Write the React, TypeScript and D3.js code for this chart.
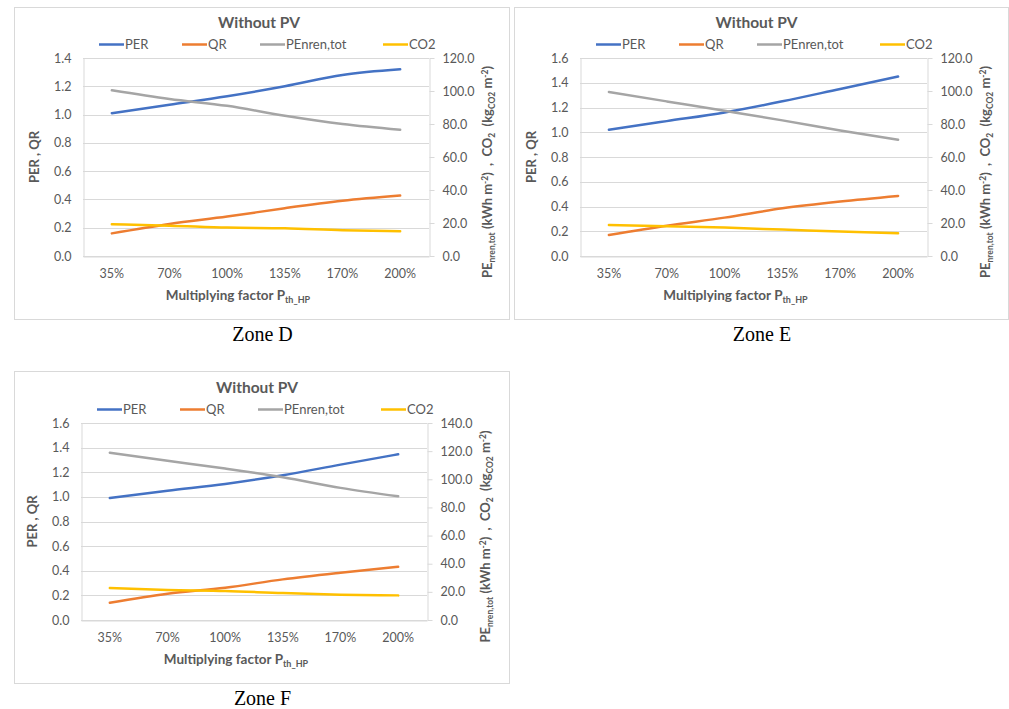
import React, { useRef, useEffect } from "react";
import * as d3 from "d3";

const categories = ["35%", "70%", "100%", "135%", "170%", "200%"];

const seriesNames = ["PER", "QR", "PEnren,tot", "CO2"];
const seriesColors = ["#4472C4", "#ED7D31", "#A5A5A5", "#FFC000"];

// Zone D
const perD = [1.01, 1.07, 1.13, 1.2, 1.28, 1.32];
const qrD = [0.16, 0.227, 0.279, 0.338, 0.39, 0.427];
const penrenD = [100.4, 95.1, 91.0, 85.0, 80.0, 76.5];
const co2D = [19.2, 18.4, 17.2, 16.8, 15.6, 15.0];

// Zone E
const perE = [1.02, 1.09, 1.16, 1.25, 1.35, 1.45];
const qrE = [0.17, 0.245, 0.31, 0.385, 0.44, 0.485];
const penrenE = [99.4, 93.7, 88.0, 82.2, 76.1, 70.4];
const co2E = [18.8, 18.0, 17.2, 16.0, 14.8, 13.8];

// Zone F
const perF = [0.99, 1.05, 1.105, 1.176, 1.262, 1.346];
const qrF = [0.14, 0.213, 0.262, 0.33, 0.384, 0.432];
const penrenF = [118.9, 113.2, 107.6, 101.4, 93.9, 87.9];
const co2F = [22.7, 21.3, 20.6, 19.1, 18.0, 17.5];

const leftTicks14 = [0, 0.2, 0.4, 0.6, 0.8, 1.0, 1.2, 1.4];
const leftTicks16 = [0, 0.2, 0.4, 0.6, 0.8, 1.0, 1.2, 1.4, 1.6];
const rightTicks120 = [0, 20, 40, 60, 80, 100, 120];
const rightTicks140 = [0, 20, 40, 60, 80, 100, 120, 140];

const zoneLabels = ["Zone D", "Zone E", "Zone F"];

const panels = [
  {
    zone: zoneLabels[0],
    frame: { x: 14, y: 7, w: 495, h: 312 },
    plot: { l: 83, t: 58, r: 429, b: 256 },
    leftTicks: leftTicks14,
    rightTicks: rightTicks120,
    left: [perD, qrD],
    right: [penrenD, co2D],
  },
  {
    zone: zoneLabels[1],
    frame: { x: 514, y: 7, w: 494, h: 312 },
    plot: { l: 580, t: 58, r: 927, b: 256 },
    leftTicks: leftTicks16,
    rightTicks: rightTicks120,
    left: [perE, qrE],
    right: [penrenE, co2E],
  },
  {
    zone: zoneLabels[2],
    frame: { x: 14, y: 371, w: 495, h: 312 },
    plot: { l: 81, t: 423, r: 427, b: 620 },
    leftTicks: leftTicks16,
    rightTicks: rightTicks140,
    left: [perF, qrF],
    right: [penrenF, co2F],
  },
];

const FONT = "Lato, 'Open Sans', sans-serif";
const GRID = "#D9D9D9";
const TXT = "#595959";

function drawPanel(svg, p) {
  const { l, t, r, b } = p.plot;
  const g = svg.append("g");

  g.append("rect")
    .attr("x", p.frame.x + 0.5)
    .attr("y", p.frame.y + 0.5)
    .attr("width", p.frame.w)
    .attr("height", p.frame.h)
    .attr("fill", "#fff")
    .attr("stroke", GRID);

  const x = d3.scaleBand().domain(categories).range([l, r]);
  const yL = d3
    .scaleLinear()
    .domain([0, p.leftTicks[p.leftTicks.length - 1]])
    .range([b, t]);
  const yR = d3
    .scaleLinear()
    .domain([0, p.rightTicks[p.rightTicks.length - 1]])
    .range([b, t]);

  // gridlines
  g.selectAll(".grid")
    .data(p.leftTicks)
    .enter()
    .append("line")
    .attr("x1", l)
    .attr("x2", r)
    .attr("y1", (d) => Math.round(yL(d)) + 0.5)
    .attr("y2", (d) => Math.round(yL(d)) + 0.5)
    .attr("stroke", GRID);

  const styleAxis = (sel) => {
    sel.selectAll("path.domain").attr("stroke", GRID);
    sel.selectAll(".tick line").attr("stroke", GRID);
    sel.selectAll("text")
      .attr("fill", TXT)
      .style("font-family", FONT)
      .style("font-size", "12.5px");
  };

  g.append("g")
    .attr("transform", `translate(${l + 0.5},0)`)
    .call(
      d3.axisLeft(yL).tickValues(p.leftTicks).tickSize(0).tickPadding(12).tickFormat(d3.format(".1f"))
    )
    .call(styleAxis);

  g.append("g")
    .attr("transform", `translate(${r + 0.5},0)`)
    .call(
      d3.axisRight(yR).tickValues(p.rightTicks).tickSize(5).tickSizeOuter(0).tickPadding(8).tickFormat(d3.format(".1f"))
    )
    .call(styleAxis);

  g.append("g")
    .attr("transform", `translate(0,${b + 0.5})`)
    .call(d3.axisBottom(x).tickSize(0).tickPadding(13))
    .call(styleAxis);

  // series lines
  const line = (scale) =>
    d3
      .line<number>()
      .x((_, i) => x(categories[i]) + x.bandwidth() / 2)
      .y((d) => scale(d))
      .curve(d3.curveMonotoneX);

  const all = [
    ...p.left.map((s) => ({ s, scale: yL })),
    ...p.right.map((s) => ({ s, scale: yR })),
  ];
  all.forEach((d, i) => {
    g.append("path")
      .attr("d", line(d.scale)(d.s))
      .attr("fill", "none")
      .attr("stroke", seriesColors[i])
      .attr("stroke-width", 2.5)
      .attr("stroke-linecap", "round");
  });

  // title
  g.append("text")
    .attr("x", (l + r) / 2 + 3)
    .attr("y", t - 30)
    .attr("text-anchor", "middle")
    .attr("fill", TXT)
    .style("font-family", FONT)
    .style("font-weight", "bold")
    .style("font-size", "15.5px")
    .text("Without PV");

  // legend
  const legendOffsets = [0, 83, 161, 284];
  const lg = g.append("g").attr("transform", `translate(${l + 16},${t - 13.5})`);
  seriesNames.forEach((name, i) => {
    lg.append("line")
      .attr("x1", legendOffsets[i])
      .attr("x2", legendOffsets[i] + 25)
      .attr("stroke", seriesColors[i])
      .attr("stroke-width", 2.5);
    lg.append("text")
      .attr("x", legendOffsets[i] + 26)
      .attr("dy", "0.35em")
      .attr("fill", TXT)
      .style("font-family", FONT)
      .style("font-size", "13px")
      .text(name);
  });

  // left axis title
  g.append("text")
    .attr("transform", `translate(${l - 44},${(t + b) / 2}) rotate(-90)`)
    .attr("text-anchor", "middle")
    .attr("fill", TXT)
    .style("font-family", FONT)
    .style("font-weight", "bold")
    .style("font-size", "13px")
    .text("PER , QR");

  // right axis title with sub/superscripts
  const rt = g
    .append("text")
    .attr("transform", `translate(${r + 63},${(t + b) / 2 + 15}) rotate(-90)`)
    .attr("text-anchor", "middle")
    .attr("fill", TXT)
    .style("font-family", FONT)
    .style("font-weight", "bold")
    .style("font-size", "13px")
    .style("white-space", "pre");
  const parts = [
    ["PE", 0, 13],
    ["nren,tot", 3, 8.5],
    [" (kWh m", -3, 13],
    ["-2", -4.5, 8.5],
    [")  ,  CO", 4.5, 13],
    ["2", 3, 8.5],
    ["  (kg", -3, 13],
    ["CO2", 3, 8.5],
    [" m", -3, 13],
    ["-2", -4.5, 8.5],
    [")", 4.5, 13],
  ];
  parts.forEach(([txt, dy, fs]) => {
    rt.append("tspan").attr("dy", dy).style("font-size", `${fs}px`).text(txt as string);
  });

  // x axis title
  const xt = g
    .append("text")
    .attr("x", (l + r) / 2 - 18)
    .attr("y", b + 44)
    .attr("text-anchor", "middle")
    .attr("fill", TXT)
    .style("font-family", FONT)
    .style("font-weight", "bold")
    .style("font-size", "13.5px");
  xt.append("tspan").text("Multiplying factor P");
  xt.append("tspan").attr("dy", 3).style("font-size", "9px").text("th_HP");

  // zone label
  svg.append("text")
    .attr("x", p.frame.x + p.frame.w / 2 + 1)
    .attr("y", p.frame.y + p.frame.h + 22)
    .attr("text-anchor", "middle")
    .attr("fill", "#000")
    .style("font-family", "'Liberation Serif', serif")
    .style("font-size", "20px")
    .text(p.zone);
}

const App = () => {
  const ref = useRef<SVGSVGElement>(null);

  useEffect(() => {
    const svg = d3.select(ref.current);
    svg.selectAll("*").remove();
    panels.forEach((p) => drawPanel(svg, p));
  }, []);

  return (
    <svg
      ref={ref}
      width={1009}
      height={709}
      style={{ position: "absolute", left: 0, top: 0, background: "#fff" }}
    ></svg>
  );
};

export default App;
